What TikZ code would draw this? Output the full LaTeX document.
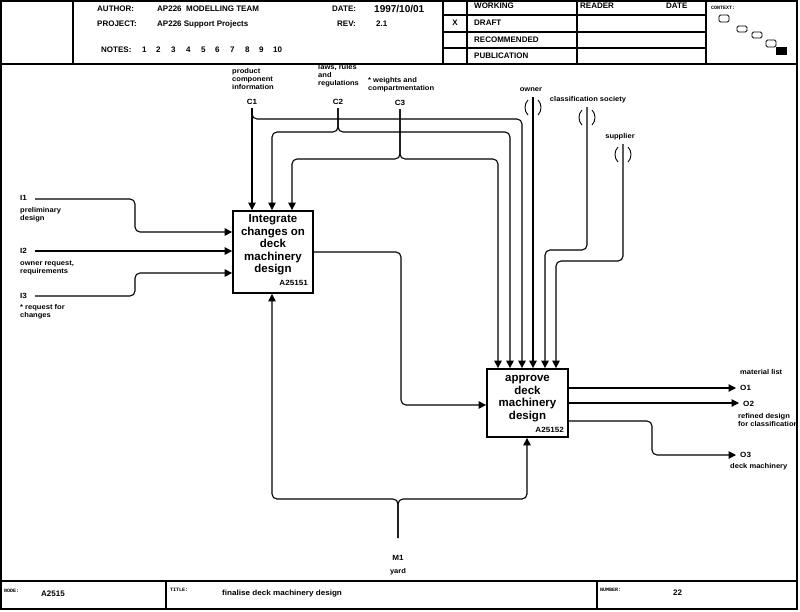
\documentclass[tikz,border=0pt]{standalone}
\usepackage{fontspec}
\setmainfont{Liberation Sans}
\newfontfamily\labfont{Liberation Sans}[FakeStretch=1.08]
\newfontfamily\tinyfont{Liberation Mono}
\usetikzlibrary{arrows.meta}
\tikzset{
  conn/.style={line width=1.1pt, rounded corners=5pt},
  arr/.style={conn, -{Triangle[length=7.5pt,width=7.5pt]}},
  hrule/.style={line width=1.3pt},
  actbox/.style={draw, line width=1.8pt, inner sep=0pt},
  lbl/.style={inner sep=0pt, align=left, font=\labfont\bfseries\fontsize{7}{7.8}\selectfont},
  codelbl/.style={inner sep=0pt, font=\labfont\bfseries\fontsize{7.5}{8}\selectfont},
  hd/.style={inner sep=0pt, anchor=west, font=\bfseries\fontsize{8}{9}\selectfont},
  tinylbl/.style={inner sep=0pt, anchor=west, font=\tinyfont\bfseries\fontsize{5}{6}\selectfont},
  ttl/.style={inner sep=0pt, align=center, font=\bfseries\fontsize{11.5}{12.5}\selectfont},
  ctx/.style={draw, line width=0.8pt, rounded corners=1.5pt},
  paren/.style={line width=0.9pt},
}
\begin{document}
\begin{tikzpicture}[x=1pt,y=-1pt]
\useasboundingbox (0,0) rectangle (800,611);
% ---------- frame and title block ----------
\draw[hrule] (1,1) rectangle (797,609);
\draw[hrule] (1,64) -- (797,64);
\draw[hrule] (73,1) -- (73,64);
\draw[hrule] (443,1) -- (443,64);
\draw[hrule] (467,1) -- (467,64);
\draw[hrule] (577,1) -- (577,64);
\draw[hrule] (706,1) -- (706,64);
\draw[hrule] (443,15) -- (706,15);
\draw[hrule] (443,32) -- (706,32);
\draw[hrule] (443,48) -- (706,48);
\draw[hrule] (1,581) -- (797,581);
\draw[hrule] (166,581) -- (166,609);
\draw[hrule] (597,581) -- (597,609);

\node[hd] (author) at (97,9) {AUTHOR:};
\node[hd] (authorv) at (157,9) {AP226\ \ MODELLING TEAM};
\node[hd] (date) at (332,9) {DATE:};
\node[hd, font=\bfseries\fontsize{10}{11}\selectfont] (datev) at (374,9) {1997/10/01};
\node[hd] (project) at (97,24) {PROJECT:};
\node[hd] (projectv) at (157,24) {AP226 Support Projects};
\node[hd] (rev) at (337,24) {REV:};
\node[hd] (revv) at (376,24) {2.1};
\node[hd] (notes) at (101,50) {NOTES:};
\foreach \n/\x in {1/142,2/156,3/171,4/186,5/201,6/215,7/230,8/245,9/259,10/273}
  \node[hd] (note\n) at (\x,50) {\n};

\node[hd, anchor=center] (xmark) at (455,23) {X};
\node[hd] (working) at (474,6) {WORKING};
\node[hd] (draft) at (474,23) {DRAFT};
\node[hd] (recommended) at (474,40) {RECOMMENDED};
\node[hd] (publication) at (474,56) {PUBLICATION};
\node[hd] (reader) at (580,6) {READER};
\node[hd] (rdate) at (666,6) {DATE};
\node[tinylbl] (context) at (711,8) {CONTEXT:};
\draw[ctx] (719,15) rectangle (729,22);
\draw[ctx] (737,26) rectangle (747,32);
\draw[ctx] (752,32) rectangle (762,38);
\draw[ctx] (766,40) rectangle (776,47);
\fill (776,47) rectangle (787,55);

\node[tinylbl] (nodelbl) at (4,591) {NODE:};
\node[hd] (nodev) at (41,594) {A2515};
\node[tinylbl] (titlelbl) at (170,590) {TITLE:};
\node[hd, font=\labfont\bfseries\fontsize{7.5}{8}\selectfont] (titlev) at (222,594) {finalise deck machinery design};
\node[tinylbl] (numberlbl) at (600,590) {NUMBER:};
\node[hd] (numberv) at (673,593) {22};

% ---------- activity boxes ----------
\node[actbox, minimum width=80pt, minimum height=82pt] (A1) at (273,252) {};
\node[ttl, anchor=north] (A1t) at (273,214.5) {Integrate\\changes on\\deck\\machinery\\design};
\node[codelbl, anchor=east] (A1id) at (308,283) {A25151};

\node[actbox, minimum width=81pt, minimum height=68pt] (A2) at (527.5,403) {};
\node[ttl, anchor=north] (A2t) at (527.5,375.5) {approve\\deck\\machinery\\design};
\node[codelbl, anchor=east] (A2id) at (564,430) {A25152};

% ---------- controls ----------
\node[lbl, anchor=north west] (c1txt) at (232,68.5) {product\\component\\information};
\node[lbl, anchor=north west] (c2txt) at (318,64.5) {laws, rules\\and\\regulations};
\node[lbl, anchor=north west] (c3txt) at (368,77.5) {* weights and\\compartmentation};
\node[codelbl] (C1) at (252,102) {C1};
\node[codelbl] (C2) at (338,102) {C2};
\node[codelbl] (C3) at (400,103) {C3};

\coordinate (c1s) at (252,108);
\coordinate (c1j) at (252,119);
\coordinate (c1r) at (522,119);
\draw[arr] (c1s) -- (c1s |- A1.north);
\draw[arr] (c1s) -- (c1j) -- (c1r) -- (c1r |- A2.north);

\coordinate (c2s) at (338,108);
\coordinate (c2j) at (338,132);
\coordinate (c2l) at (272,132);
\coordinate (c2r) at (510,132);
\draw[arr] (c2s) -- (c2j) -- (c2l) -- (c2l |- A1.north);
\draw[arr] (c2s) -- (c2j) -- (c2r) -- (c2r |- A2.north);

\coordinate (c3s) at (400,109);
\coordinate (c3j) at (400,159);
\coordinate (c3l) at (292,159);
\coordinate (c3r) at (498,159);
\draw[arr] (c3s) -- (c3j) -- (c3l) -- (c3l |- A1.north);
\draw[arr] (c3s) -- (c3j) -- (c3r) -- (c3r |- A2.north);

% tunnelled controls
\node[lbl] (owner) at (531,90) {owner};
\coordinate (own) at (533,97);
\draw[arr] (own) -- (own |- A2.north);
\draw[paren] (528,100) .. controls (524,104) and (524,111) .. (528,115);
\draw[paren] (538,100) .. controls (542,104) and (542,111) .. (538,115);

\node[lbl] (class) at (588,100) {classification society};
\coordinate (cls) at (587,107);
\coordinate (cls1) at (587,250);
\coordinate (cls2) at (545,250);
\draw[arr] (cls) -- (cls1) -- (cls2) -- (cls2 |- A2.north);
\draw[paren] (582,110) .. controls (578,114) and (578,121) .. (582,125);
\draw[paren] (592,110) .. controls (596,114) and (596,121) .. (592,125);

\node[lbl] (supplier) at (620,137) {supplier};
\coordinate (spl) at (623,144);
\coordinate (spl1) at (623,261);
\coordinate (spl2) at (556,261);
\draw[arr] (spl) -- (spl1) -- (spl2) -- (spl2 |- A2.north);
\draw[paren] (618,147) .. controls (614,151) and (614,158) .. (618,162);
\draw[paren] (628,147) .. controls (632,151) and (632,158) .. (628,162);

% ---------- inputs ----------
\node[codelbl, anchor=west] (I1) at (20,198) {I1};
\node[lbl, anchor=north west] (i1txt) at (20,207.5) {preliminary\\design};
\node[codelbl, anchor=west] (I2) at (20,251) {I2};
\node[lbl, anchor=north west] (i2txt) at (20,260.5) {owner request,\\requirements};
\node[codelbl, anchor=west] (I3) at (20,296) {I3};
\node[lbl, anchor=north west] (i3txt) at (20,304) {* request for\\changes};

\coordinate (i1s) at (35,199);
\coordinate (i1a) at (135,199);
\coordinate (i1b) at (135,232);
\draw[arr] (i1s) -- (i1a) -- (i1b) -- (i1b -| A1.west);
\coordinate (i2s) at (35,251);
\draw[arr] (i2s) -- (i2s -| A1.west);
\coordinate (i3s) at (35,296);
\coordinate (i3a) at (135,296);
\coordinate (i3b) at (135,273);
\draw[arr] (i3s) -- (i3a) -- (i3b) -- (i3b -| A1.west);

% ---------- A1 -> A2 ----------
\coordinate (o1a) at (401,252);
\coordinate (o1b) at (401,405);
\draw[arr] (A1.east) -- (o1a) -- (o1b) -- (o1b -| A2.west);

% ---------- mechanism ----------
\node[codelbl] (M1) at (398,558) {M1};
\node[lbl] (yard) at (398,572) {yard};
\coordinate (m1s) at (398,538);
\coordinate (m1j) at (398,499);
\coordinate (m1l) at (272,499);
\coordinate (m1r) at (527,499);
\draw[arr] (m1s) -- (m1j) -- (m1l) -- (m1l |- A1.south);
\draw[arr] (m1s) -- (m1j) -- (m1r) -- (m1r |- A2.south);

% ---------- outputs ----------
\node[lbl, anchor=west] (mlist) at (740,372) {material list};
\node[codelbl, anchor=west] (O1) at (740,388) {O1};
\node[codelbl, anchor=west] (O2) at (743,404) {O2};
\node[lbl, anchor=north west] (o2txt) at (738,413.5) {refined design\\for classification};
\node[codelbl, anchor=west] (O3) at (740,455) {O3};
\node[lbl, anchor=west] (deckm) at (730,467) {deck machinery};

\coordinate (q1) at (568,388);
\coordinate (q1e) at (736,388);
\draw[arr] (q1) -- (q1e);
\coordinate (q2) at (568,403);
\coordinate (q2e) at (739,403);
\draw[arr] (q2) -- (q2e);
\coordinate (q3) at (568,421);
\coordinate (q3a) at (652,421);
\coordinate (q3b) at (652,455);
\coordinate (q3e) at (736,455);
\draw[arr] (q3) -- (q3a) -- (q3b) -- (q3e);
\end{tikzpicture}
\end{document}
